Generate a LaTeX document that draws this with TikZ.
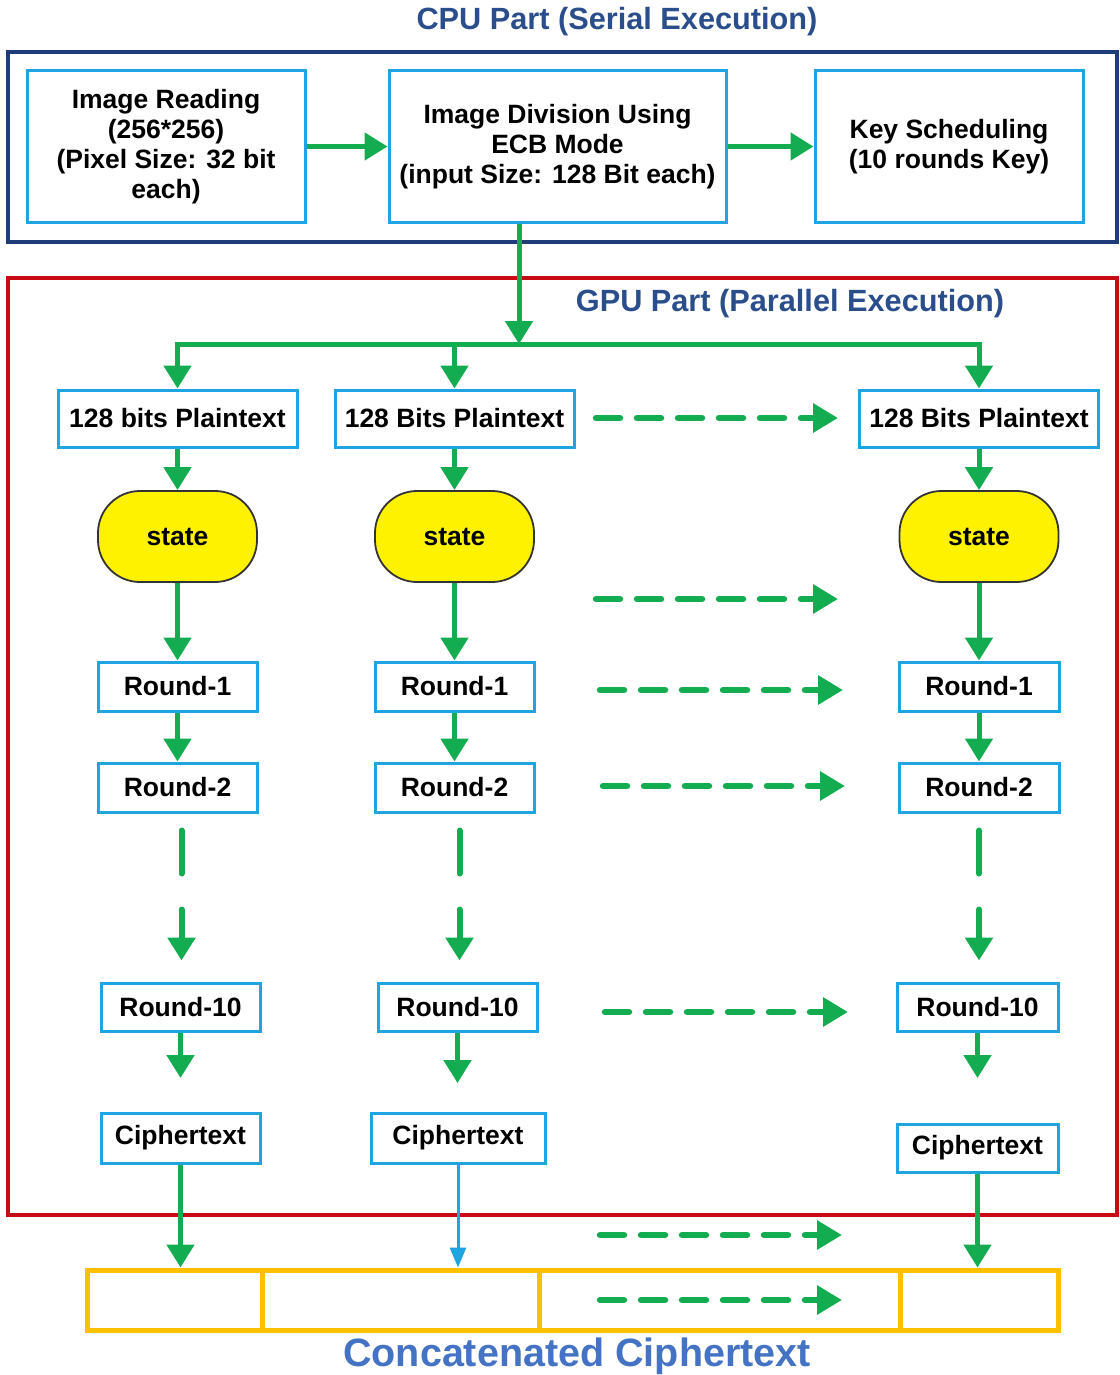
\documentclass[tikz,border=0pt]{standalone}
\usepackage{fontspec}
\setmainfont{Liberation Sans}
\usetikzlibrary{arrows.meta}
\definecolor{cyanb}{RGB}{30,165,225}
\definecolor{gr}{RGB}{20,172,80}
\definecolor{redf}{RGB}{200,10,20}
\definecolor{bluef}{RGB}{30,60,120}
\definecolor{titleb}{RGB}{42,78,140}
\definecolor{concb}{RGB}{68,114,196}
\definecolor{orangef}{RGB}{255,192,0}
\newcommand{\nodefont}{\fontsize{26.5}{30}\selectfont\bfseries}
\tikzset{
  box/.style={draw=cyanb, line width=3pt, fill=white, inner sep=0pt, align=center, font=\nodefont},
  statebox/.style={draw=black!80, line width=1.8pt, fill=yellow, rounded corners=42pt, inner sep=0pt, font=\nodefont, minimum width=159pt, minimum height=91pt},
  frame/.style={draw, line width=4pt, inner sep=0pt},
  cell/.style={draw=orangef, line width=5pt, inner sep=0pt, minimum height=60pt},
  garrow/.style={draw=gr, line width=5pt, -{Triangle[length=23pt,width=27pt]}},
  gline/.style={draw=gr, line width=5pt, line cap=rect},
  barrow/.style={draw=cyanb, line width=3pt, -{Triangle[length=20pt,width=16pt]}},
  darrow/.style={draw=gr, line width=6.5pt, line cap=round, dash pattern=on 24pt off 17pt, -{Triangle[length=25pt,width=28pt]}},
  vdarrow/.style={draw=gr, line width=6pt, line cap=round, dash pattern=on 43pt off 36pt on 300pt, -{Triangle[length=23pt,width=27pt]}, shorten <=17pt, shorten >=21pt},
  title/.style={font=\fontsize{30.7}{36}\selectfont\bfseries, text=titleb, inner sep=0pt}
}
\begin{document}
\begin{tikzpicture}[x=1pt,y=-1pt]
\useasboundingbox (0,0) rectangle (1119,1375);
% frames
\node[frame, draw=bluef, minimum width=1109pt, minimum height=190pt] (cpu) at (562.5,147) {};
\node[frame, draw=redf, minimum width=1109pt, minimum height=937pt] (gpu) at (562.5,746.5) {};
\node[title] (cputitle) at (617,22) {CPU Part (Serial Execution)};
\node[title] (gputitle) at (790,304) {GPU Part (Parallel Execution)};
% CPU boxes
\node[box, minimum width=278pt, minimum height=151pt] (b1) at (166,146.5) {Image Reading\\(256*256)\\(Pixel Size: 32 bit\\each)};
\node[box, minimum width=337pt, minimum height=151pt] (b2) at (557.5,146.5) {Image Division Using\\ECB Mode\\(input Size: 128 Bit each)};
\node[box, minimum width=268pt, minimum height=151pt] (b3) at (949,146.5) {Key Scheduling\\(10 rounds Key)};
\draw[garrow] (b1) -- (b2);
\draw[garrow] (b2) -- (b3);
% plaintext
\node[box, minimum width=239pt, minimum height=57pt] (p1) at (177.5,418.5) {128 bits Plaintext};
\node[box, minimum width=239pt, minimum height=57pt] (p2) at (454.5,418.5) {128 Bits Plaintext};
\node[box, minimum width=239pt, minimum height=57pt] (p3) at (979,418.5) {128 Bits Plaintext};
% fork
\coordinate (fk) at (519,344);
\draw[garrow] (b2.south -| fk) -- (fk);
\draw[gline] (p1.north |- fk) -- (p3.north |- fk);
\draw[garrow] (p1.north |- fk) -- (p1.north);
\draw[garrow] (p2.north |- fk) -- (p2.north);
\draw[garrow] (p3.north |- fk) -- (p3.north);
% states
\node[statebox] (s1) at (177.5,536.5) {state};
\node[statebox] (s2) at (454.5,536.5) {state};
\node[statebox] (s3) at (979,536.5) {state};
\draw[garrow] (p1) -- (s1);
\draw[garrow] (p2) -- (s2);
\draw[garrow] (p3) -- (s3);
% round 1
\node[box, minimum width=159pt, minimum height=49pt] (ra1) at (177.5,686.5) {Round-1};
\node[box, minimum width=159pt, minimum height=49pt] (rb1) at (454.5,686.5) {Round-1};
\node[box, minimum width=160pt, minimum height=49pt] (rc1) at (979,686.5) {Round-1};
\draw[garrow] (s1) -- (ra1);
\draw[garrow] (s2) -- (rb1);
\draw[garrow] (s3) -- (rc1);
% round 2
\node[box, minimum width=159pt, minimum height=49pt] (ra2) at (177.5,787.5) {Round-2};
\node[box, minimum width=159pt, minimum height=49pt] (rb2) at (454.5,787.5) {Round-2};
\node[box, minimum width=160pt, minimum height=49pt] (rc2) at (979,787.5) {Round-2};
\draw[garrow] (ra1) -- (ra2);
\draw[garrow] (rb1) -- (rb2);
\draw[garrow] (rc1) -- (rc2);
% round 10
\node[box, minimum width=159pt, minimum height=48pt] (ra10) at (180.5,1007) {Round-10};
\node[box, minimum width=159pt, minimum height=48pt] (rb10) at (457.5,1007) {Round-10};
\node[box, minimum width=161pt, minimum height=48pt] (rc10) at (977.5,1007) {Round-10};
\draw[vdarrow] ([xshift=4pt]ra2.south) -- ([xshift=4pt]ra2.south |- ra10.north);
\draw[vdarrow] ([xshift=5pt]rb2.south) -- ([xshift=5pt]rb2.south |- rb10.north);
\draw[vdarrow] (rc2.south) -- (rc2.south |- rc10.north);
% free ends below round 10
\coordinate (ea) at (180.5,1078);
\coordinate (eb) at (457.5,1083);
\coordinate (ec) at (977.5,1078);
\draw[garrow] (ra10.south) -- (ea);
\draw[garrow] (rb10.south) -- (eb);
\draw[garrow] (rc10.south) -- (ec);
% ciphertext
\node[box, minimum width=159pt, minimum height=50pt] (ca) at (180.5,1138) {Ciphertext};
\node[box, minimum width=174pt, minimum height=50pt] (cb) at (458,1138) {Ciphertext};
\node[box, minimum width=161pt, minimum height=48pt] (cc) at (977.5,1148) {Ciphertext};
% concatenated bar
\node[cell, minimum width=175pt] (k1) at (174.5,1300) {};
\node[cell, minimum width=277pt] (k2) at (400.5,1300) {};
\node[cell, minimum width=361pt] (k3) at (719.5,1300) {};
\node[cell, minimum width=158pt] (k4) at (979,1300) {};
\node[font=\fontsize{39.5}{44}\selectfont\bfseries, text=concb, inner sep=0pt] (ctitle) at (577,1356) {Concatenated Ciphertext};
\draw[garrow] (ca.south) -- (ca.south |- k1.north);
\draw[barrow] (cb.south) -- (cb.south |- k2.north);
\draw[garrow] (cc.south) -- (cc.south |- k4.north);
% horizontal dashed arrows
\coordinate (h1s) at (596,418);  \coordinate (h1e) at (838,418);
\coordinate (h2s) at (596,599);  \coordinate (h2e) at (838,599);
\coordinate (h3s) at (600,690);  \coordinate (h3e) at (843,690);
\coordinate (h4s) at (603,786);  \coordinate (h4e) at (845,786);
\coordinate (h5s) at (605,1012); \coordinate (h5e) at (848,1012);
\coordinate (h6s) at (600,1235); \coordinate (h6e) at (842,1235);
\coordinate (h7s) at (600,1300); \coordinate (h7e) at (842,1300);
\foreach \i in {1,...,7} {\draw[darrow] (h\i s) -- (h\i e);}
\end{tikzpicture}
\end{document}
